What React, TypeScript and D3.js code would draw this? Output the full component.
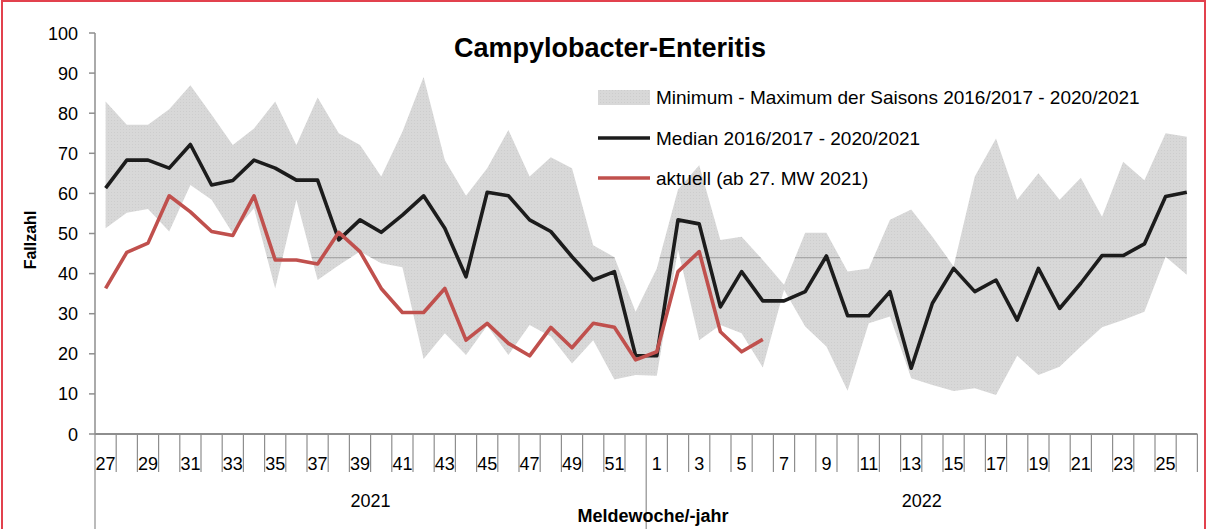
import React from "react";
import * as d3 from "d3";

const weeks: string[] = [
  "27","28","29","30","31","32","33","34","35","36","37","38","39","40","41","42","43","44","45","46","47","48","49","50","51","52",
  "1","2","3","4","5","6","7","8","9","10","11","12","13","14","15","16","17","18","19","20","21","22","23","24","25","26",
];
const years: string[] = ["2021", "2022"];
const yTicks: number[] = [0, 10, 20, 30, 40, 50, 60, 70, 80, 90, 100];

const median: number[] = [
  61.3, 68.3, 68.3, 66.3, 72.2, 62.1, 63.2, 68.3, 66.3, 63.3,
  63.3, 48.4, 53.4, 50.3, 54.6, 59.4, 51.3, 39.2, 60.3, 59.4,
  53.4, 50.5, 44.2, 38.4, 40.5, 19.5, 19.5, 53.4, 52.4, 31.7,
  40.5, 33.2, 33.2, 35.5, 44.4, 29.5, 29.5, 35.5, 16.4, 32.6,
  41.3, 35.5, 38.4, 28.4, 41.3, 31.3, 37.6, 44.5, 44.5, 47.4,
  59.2, 60.3,
];
const aktuell: number[] = [
  36.3, 45.3, 47.6, 59.4, 55.4, 50.5, 49.5, 59.4, 43.4, 43.4,
  42.4, 50.3, 45.5, 36.3, 30.3, 30.3, 36.3, 23.4, 27.6, 22.6,
  19.5, 26.6, 21.5, 27.6, 26.6, 18.5, 20.5, 40.5, 45.5, 25.5,
  20.5, 23.6,
];
const bandMax: number[] = [
  82.9, 77.1, 77.1, 81.0, 87.0, 79.6, 72.1, 76.2, 82.9, 72.1,
  83.9, 75.0, 72.1, 64.2, 75.4, 89.0, 68.3, 59.4, 66.3, 75.8,
  64.2, 69.0, 66.3, 47.1, 44.1, 30.5, 41.3, 61.0, 67.0, 48.4,
  49.2, 43.4, 37.2, 50.2, 50.2, 40.5, 41.3, 53.4, 56.0, 49.2,
  41.8, 64.2, 73.7, 58.4, 65.0, 58.4, 63.9, 54.2, 67.9, 63.3,
  75.0, 74.1,
];
const bandMin: number[] = [
  51.3, 55.2, 56.1, 50.5, 62.1, 58.4, 50.0, 56.3, 36.3, 58.4,
  38.4, 42.1, 45.5, 42.6, 41.6, 18.7, 25.1, 19.7, 27.0, 19.7,
  27.2, 24.3, 17.6, 23.4, 13.6, 14.7, 14.5, 46.0, 23.4, 27.2,
  25.1, 16.6, 36.0, 26.8, 21.8, 10.8, 27.6, 29.3, 13.9, 12.2,
  10.7, 11.4, 9.7, 19.5, 14.7, 16.8, 21.8, 26.6, 28.4, 30.5,
  44.2, 39.7,
];
const refLine = 44.0;

const FONT = "'Liberation Sans', Arial, sans-serif";

export default function App() {
  const W = 1208, H = 529;
  const left = 95, right = 1197.4, top = 33, bottom = 434;
  const x = d3.scaleBand<number>().domain(d3.range(weeks.length)).range([left, right]).padding(0);
  const bw = x.bandwidth();
  const cx = (i: number) => (x(i) as number) + bw / 2;
  const y = d3.scaleLinear().domain([0, 100]).range([bottom, top]);

  const area = d3.area<number>()
    .x((_, i) => cx(i))
    .y0((_, i) => y(bandMin[i]))
    .y1((d) => y(d));
  const line = d3.line<number>().x((_, i) => cx(i)).y((d) => y(d));
  const bandPath = area(bandMax) || "";

  const axisColor = "#8e8e8e";

  return (
    <svg width={W} height={H} style={{ position: "absolute", left: 0, top: 0, background: "#fff" }}>
      <defs>
        <clipPath id="bandClip">
          <path d={bandPath} />
        </clipPath>
        <pattern id="bandPat" width="3" height="3" patternUnits="userSpaceOnUse">
          <rect width="3" height="3" fill="#d8d8d8" />
          <rect width="1" height="1" fill="#cdcdcd" />
        </pattern>
      </defs>
      <rect x={2} y={1} width={1203} height={H + 10} fill="none" stroke="#e2414d" strokeWidth={2} />

      {/* band */}
      <path d={bandPath} fill="url(#bandPat)" />
      <line x1={left} x2={right} y1={y(refLine)} y2={y(refLine)} stroke="#a8a8a8" strokeWidth={1.2} clipPath="url(#bandClip)" />

      {/* lines */}
      <path d={line(median) || ""} fill="none" stroke="#1c1c1c" strokeWidth={3.6} strokeLinejoin="round" />
      <path d={line(aktuell) || ""} fill="none" stroke="#c0504d" strokeWidth={3.6} strokeLinejoin="round" />

      {/* y axis */}
      <line x1={left} x2={left} y1={y(0)} y2={y(100)} stroke={axisColor} strokeWidth={1.5} />
      {yTicks.map((t) => (
        <g key={t}>
          <line x1={left - 6} x2={left} y1={y(t)} y2={y(t)} stroke={axisColor} strokeWidth={1.5} />
          <text x={left - 17} y={y(t) + 6.5} textAnchor="end" fontFamily={FONT} fontSize={18} fill="#000">{t}</text>
        </g>
      ))}

      {/* x axis */}
      <line x1={left} x2={right} y1={bottom} y2={bottom} stroke={axisColor} strokeWidth={2} />
      {d3.range(weeks.length + 1).map((k) => {
        const xx = left + k * bw;
        const long = k === 0 || k === 26;
        return <line key={k} x1={xx} x2={xx} y1={bottom} y2={long ? H + 5 : 472} stroke={axisColor} strokeWidth={1.2} />;
      })}
      {weeks.map((w, i) => (i % 2 === 0 ? (
        <text key={i} x={cx(i)} y={470} textAnchor="middle" fontFamily={FONT} fontSize={18} fill="#000">{w}</text>
      ) : null))}
      {years.map((yr, j) => (
        <text key={yr} x={left + (j * 26 + 13) * bw} y={507} textAnchor="middle" fontFamily={FONT} fontSize={18} fill="#000">{yr}</text>
      ))}

      {/* titles */}
      <text x={610} y={57} textAnchor="middle" fontFamily={FONT} fontSize={27} fontWeight="bold" fill="#000">Campylobacter-Enteritis</text>
      <text x={653} y={522} textAnchor="middle" fontFamily={FONT} fontSize={18} fontWeight="bold" fill="#000">Meldewoche/-jahr</text>
      <text transform={`translate(36,${240}) rotate(-90)`} textAnchor="middle" fontFamily={FONT} fontSize={16} fontWeight="bold" fill="#000">Fallzahl</text>

      {/* legend */}
      <rect x={598} y={90} width={52} height={15} fill="url(#bandPat)" />
      <text x={656} y={104} fontFamily={FONT} fontSize={19} fill="#000">Minimum - Maximum der Saisons 2016/2017 - 2020/2021</text>
      <line x1={598} x2={650} y1={138} y2={138} stroke="#1c1c1c" strokeWidth={3.6} />
      <text x={656} y={145} fontFamily={FONT} fontSize={19} fill="#000">Median 2016/2017 - 2020/2021</text>
      <line x1={598} x2={650} y1={178} y2={178} stroke="#c0504d" strokeWidth={3.6} />
      <text x={656} y={185} fontFamily={FONT} fontSize={19} fill="#000">aktuell (ab 27. MW 2021)</text>
    </svg>
  );
}
